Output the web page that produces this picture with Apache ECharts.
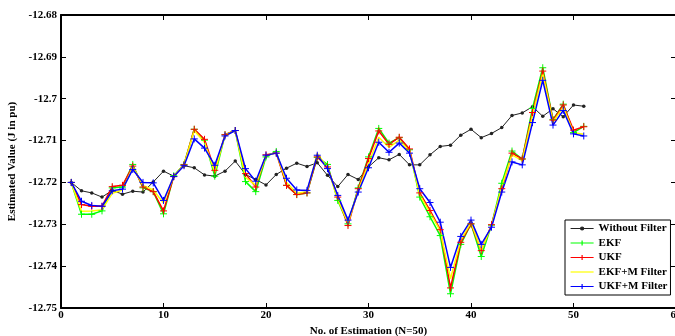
<!DOCTYPE html>
<html>
<head>
<meta charset="utf-8">
<script src="https://cdn.jsdelivr.net/npm/echarts@6/dist/echarts.min.js"></script>
<style>html,body{margin:0;padding:0;background:#fff}#c{width:675px;height:336px}</style>
</head>
<body>
<div id="c"></div>
<script>
const estimationNo = [1,2,3,4,5,6,7,8,9,10,11,12,13,14,15,16,17,18,19,20,21,22,23,24,25,26,27,28,29,30,31,32,33,34,35,36,37,38,39,40,41,42,43,44,45,46,47,48,49,50,51];
const withoutFilter = [-12.7200,-12.7220,-12.7225,-12.7235,-12.7219,-12.7228,-12.7221,-12.7223,-12.7199,-12.7173,-12.7185,-12.7160,-12.7165,-12.7182,-12.7185,-12.7173,-12.7149,-12.7181,-12.7193,-12.7206,-12.7181,-12.7166,-12.7154,-12.7162,-12.7153,-12.7183,-12.7210,-12.7181,-12.7193,-12.7163,-12.7141,-12.7146,-12.7133,-12.7158,-12.7158,-12.7134,-12.7114,-12.7111,-12.7087,-12.7073,-12.7093,-12.7083,-12.7069,-12.7040,-12.7034,-12.7019,-12.7042,-12.7024,-12.7043,-12.7015,-12.7018];
const ekf = [-12.7200,-12.7276,-12.7276,-12.7268,-12.7213,-12.7211,-12.7157,-12.7213,-12.7222,-12.7275,-12.7184,-12.7157,-12.7073,-12.7099,-12.7185,-12.7086,-12.7076,-12.7198,-12.7222,-12.7139,-12.7126,-12.7207,-12.7229,-12.7225,-12.7140,-12.7157,-12.7243,-12.7299,-12.7213,-12.7139,-12.7071,-12.7106,-12.7093,-12.7122,-12.7235,-12.7282,-12.7327,-12.7466,-12.7348,-12.7299,-12.7377,-12.7302,-12.7202,-12.7125,-12.7144,-12.7023,-12.6926,-12.7050,-12.7013,-12.7081,-12.7066];
const ukf = [-12.7200,-12.7253,-12.7257,-12.7257,-12.7210,-12.7207,-12.7161,-12.7211,-12.7222,-12.7268,-12.7186,-12.7158,-12.7073,-12.7097,-12.7171,-12.7086,-12.7076,-12.7179,-12.7211,-12.7134,-12.7130,-12.7207,-12.7229,-12.7225,-12.7139,-12.7163,-12.7235,-12.7303,-12.7215,-12.7143,-12.7077,-12.7109,-12.7092,-12.7120,-12.7225,-12.7267,-12.7313,-12.7452,-12.7343,-12.7299,-12.7363,-12.7301,-12.7215,-12.7130,-12.7144,-12.7033,-12.6934,-12.7051,-12.7015,-12.7075,-12.7067];
const ekfM = [-12.7200,-12.7269,-12.7268,-12.7265,-12.7226,-12.7218,-12.7163,-12.7207,-12.7218,-12.7249,-12.7185,-12.7158,-12.7076,-12.7104,-12.7175,-12.7087,-12.7076,-12.7188,-12.7207,-12.7135,-12.7129,-12.7200,-12.7226,-12.7222,-12.7131,-12.7165,-12.7240,-12.7297,-12.7219,-12.7155,-12.7092,-12.7116,-12.7099,-12.7125,-12.7230,-12.7272,-12.7316,-12.7430,-12.7338,-12.7296,-12.7362,-12.7304,-12.7210,-12.7134,-12.7148,-12.7040,-12.6940,-12.7055,-12.7020,-12.7081,-12.7085];
const ukfM = [-12.7200,-12.7245,-12.7255,-12.7257,-12.7220,-12.7216,-12.7169,-12.7200,-12.7201,-12.7243,-12.7186,-12.7160,-12.7096,-12.7118,-12.7159,-12.7089,-12.7076,-12.7167,-12.7197,-12.7135,-12.7130,-12.7190,-12.7218,-12.7219,-12.7135,-12.7167,-12.7231,-12.7290,-12.7223,-12.7165,-12.7104,-12.7128,-12.7106,-12.7130,-12.7215,-12.7248,-12.7295,-12.7403,-12.7329,-12.7290,-12.7348,-12.7307,-12.7223,-12.7151,-12.7158,-12.7057,-12.6956,-12.7063,-12.7028,-12.7084,-12.7089];
const seriesNames = ['Without Filter','EKF','UKF','EKF+M Filter','UKF+M Filter'];

const pair = arr => estimationNo.map((x, i) => [x, arr[i]]);
const PLUS = 'path://M0,5L10,5M5,0L5,10';
const font = 'Liberation Serif';

const ICON_DOT = 'path://M0,0L0,0M23,7L23,7M0,3.5L23,3.5M10,3.5A1.5,1.5 0 1 0 13,3.5A1.5,1.5 0 1 0 10,3.5Z';
const ICON_PLUS = 'path://M0,0L0,0M23,7L23,7M0,3.5L23,3.5M11.5,1L11.5,6';
const ICON_LINE = 'path://M0,0L0,0M23,7L23,7M0,3.5L23,3.5';

function mk(name, arr, color, symbol, size, width) {
  return {
    name, type: 'line', data: pair(arr),
    symbol, symbolSize: size, showSymbol: symbol !== 'none',
    lineStyle: { color, width },
    itemStyle: { color, borderColor: color, borderWidth: symbol === PLUS ? 1 : 0 },
    emphasis: { disabled: true }, animation: false
  };
}

const legItem = (name, icon, color) => ({
  name, icon,
  itemStyle: { color, borderColor: color, borderWidth: 1.2 }
});

const chart = echarts.init(document.getElementById('c'), null, { renderer: 'canvas' });
chart.setOption({
  animation: false,
  backgroundColor: '#fff',
  grid: { left: 61, top: 15, width: 615, height: 293, show: false, outerBoundsMode: 'none', containLabel: false },
  legend: {
    orient: 'vertical', left: 565, top: 220,
    padding: [3, 3, 3, 5], itemGap: 3.5, itemWidth: 23, itemHeight: 7,
    borderColor: '#000', borderWidth: 1, backgroundColor: '#fff',
    textStyle: { fontFamily: font, fontWeight: 'bold', fontSize: 11, color: '#000', lineHeight: 11 },
    data: [
      legItem(seriesNames[0], ICON_DOT, '#222222'),
      legItem(seriesNames[1], ICON_PLUS, '#00ff00'),
      legItem(seriesNames[2], ICON_PLUS, '#ff0000'),
      legItem(seriesNames[3], ICON_LINE, '#ffff00'),
      legItem(seriesNames[4], ICON_PLUS, '#0000ff')
    ]
  },
  xAxis: [{
    type: 'value', min: 0, max: 60, interval: 10, position: 'bottom',
    name: 'No. of Estimation (N=50)', nameLocation: 'middle', nameGap: 12,
    nameTextStyle: { fontFamily: font, fontWeight: 'bold', fontSize: 11, color: '#000' },
    axisLine: { lineStyle: { color: '#000', width: 2 } },
    axisTick: { inside: true, length: 5, lineStyle: { color: '#000' } },
    axisLabel: { margin: 2, fontFamily: font, fontWeight: 'bold', fontSize: 11, color: '#000' },
    splitLine: { show: false }
  }, {
    type: 'value', min: 0, max: 60, interval: 10, position: 'top',
    axisLine: { lineStyle: { color: '#000', width: 2 } },
    axisTick: { inside: true, length: 5, lineStyle: { color: '#000' } },
    axisLabel: { show: false }, splitLine: { show: false }
  }],
  yAxis: [{
    type: 'value', min: -12.75, max: -12.68, interval: 0.01, position: 'left',
    name: 'Estimated Value (J in pu)', nameLocation: 'middle', nameGap: 36,
    nameTextStyle: { fontFamily: font, fontWeight: 'bold', fontSize: 11, color: '#000' },
    axisLine: { onZero: false, lineStyle: { color: '#000', width: 2 } },
    axisTick: { inside: true, length: 5, lineStyle: { color: '#000' } },
    axisLabel: { margin: 4, fontFamily: font, fontWeight: 'bold', fontSize: 11, color: '#000',
      formatter: v => String(Number(v.toFixed(2))) },
    splitLine: { show: false }
  }, {
    type: 'value', min: -12.75, max: -12.68, interval: 0.01, position: 'right',
    axisLine: { onZero: false, lineStyle: { color: '#000', width: 2 } },
    axisTick: { inside: true, length: 5, lineStyle: { color: '#000' } },
    axisLabel: { show: false }, splitLine: { show: false }
  }],
  series: [
    mk(seriesNames[0], withoutFilter, '#222222', 'circle', 3.5, 1),
    mk(seriesNames[1], ekf, '#00ff00', PLUS, 7, 1.5),
    mk(seriesNames[2], ukf, '#ff0000', PLUS, 7, 1.5),
    mk(seriesNames[3], ekfM, '#ffff00', 'none', 0, 1.5),
    mk(seriesNames[4], ukfM, '#0000ff', PLUS, 7, 1.5)
  ]
});
</script>
</body>
</html>
